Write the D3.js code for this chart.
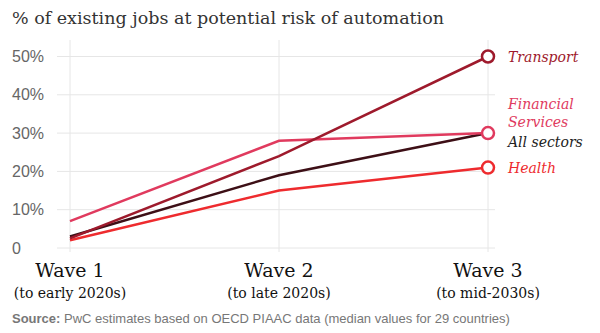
<!DOCTYPE html>
<html>
<head>
<meta charset="utf-8">
<script src="https://cdn.jsdelivr.net/npm/d3@7"></script>
<style>
  body { margin: 0; background: #fff; }
  svg { display: block; }
</style>
</head>
<body>
<div class="canvas"></div>
<script>
// data
const waves = ["Wave 1", "Wave 2", "Wave 3"];
const waveSubs = ["(to early 2020s)", "(to late 2020s)", "(to mid-2030s)"];
const yTicks = [0, 10, 20, 30, 40, 50];
const seriesNames = ["Health", "All sectors", "Financial Services", "Transport"];
const health = [2, 15, 21];
const allSectors = [3, 19, 30];
const financial = [7, 28, 30];
const transport = [2.5, 24, 50];

const colors = {
  "Health": "#ee2b2e",
  "All sectors": "#3d0f16",
  "Financial Services": "#e03a5e",
  "Transport": "#9e1a2c"
};

const w = 600;
const h = 333;
const margin = { top: 40, right: 112, bottom: 85, left: 70 };

const svg = d3.select(".canvas").append("svg").attr("width", w).attr("height", h);

// title
svg.append("text")
  .attr("x", 12).attr("y", 24)
  .style("font-family", "'DejaVu Serif', serif")
  .style("font-size", "17.5px")
  .style("fill", "#333")
  .text("% of existing jobs at potential risk of automation");

const graph = svg.append("g")
  .attr("transform", `translate(${margin.left}, ${margin.top})`);

const xScale = d3.scalePoint().domain(waves).range([0, 418]);
const yScale = d3.scaleLinear().domain([0, 50]).range([208, 16.5]);

// vertical grid
graph.append("g")
  .selectAll("line")
  .data(waves)
  .join("line")
  .attr("x1", d => xScale(d)).attr("x2", d => xScale(d))
  .attr("y1", 0).attr("y2", 212)
  .attr("stroke", "#e6e6e6");

// horizontal grid
graph.append("g")
  .selectAll("line")
  .data(yTicks)
  .join("line")
  .attr("x1", -13).attr("x2", 425)
  .attr("y1", d => yScale(d)).attr("y2", d => yScale(d))
  .attr("stroke", "#e6e6e6");

// y labels
graph.append("g")
  .selectAll("text")
  .data(yTicks)
  .join("text")
  .attr("x", -58)
  .attr("y", d => yScale(d) + 5.5)
  .style("font-family", "'Liberation Sans', Arial, sans-serif")
  .style("font-size", "16px")
  .style("fill", "#666")
  .text(d => d === 0 ? "0" : d + "%");

// x labels
const xl = graph.append("g")
  .selectAll("g")
  .data(waves)
  .join("g")
  .attr("transform", d => `translate(${xScale(d)}, 0)`);
xl.append("text")
  .attr("y", 237)
  .attr("text-anchor", "middle")
  .style("font-family", "'DejaVu Serif', serif")
  .style("font-size", "19px")
  .style("fill", "#111")
  .text(d => d);
xl.append("text")
  .attr("y", 258)
  .attr("text-anchor", "middle")
  .style("font-family", "'DejaVu Serif', serif")
  .style("font-size", "14px")
  .style("fill", "#111")
  .text((d, i) => waveSubs[i]);

// lines
const seriesData = {
  "Health": health,
  "All sectors": allSectors,
  "Financial Services": financial,
  "Transport": transport
};
const line = d3.line().x((d, i) => xScale(waves[i])).y(d => yScale(d));

graph.append("g")
  .selectAll("path")
  .data(seriesNames)
  .join("path")
  .attr("d", d => line(seriesData[d]))
  .attr("fill", "none")
  .attr("stroke", d => colors[d])
  .attr("stroke-width", 2.5);

// end markers (all sectors is hidden under financial)
graph.append("g")
  .selectAll("circle")
  .data(["Health", "Financial Services", "Transport"])
  .join("circle")
  .attr("cx", xScale(waves[2]))
  .attr("cy", d => yScale(seriesData[d][2]))
  .attr("r", 6)
  .attr("fill", "#fff")
  .attr("stroke", d => colors[d])
  .attr("stroke-width", 2.5);

// series labels
const labelStyle = sel => sel
  .style("font-family", "'DejaVu Serif', serif")
  .style("font-style", "italic")
  .style("font-size", "14px");
const lx = xScale(waves[2]) + 20;
graph.append("text").call(labelStyle).attr("x", lx).attr("y", yScale(50) + 5)
  .style("fill", colors["Transport"]).text("Transport");
const fin = graph.append("text").call(labelStyle).attr("x", lx).attr("y", yScale(30) - 24)
  .style("fill", colors["Financial Services"]);
fin.append("tspan").attr("x", lx).text("Financial");
fin.append("tspan").attr("x", lx).attr("dy", 18).text("Services");
graph.append("text").call(labelStyle).attr("x", lx).attr("y", yScale(30) + 14)
  .style("fill", "#222").text("All sectors");
graph.append("text").call(labelStyle).attr("x", lx).attr("y", yScale(21) + 5)
  .style("fill", colors["Health"]).text("Health");

// source
const src = svg.append("text")
  .attr("x", 12).attr("y", 323)
  .style("font-family", "'Liberation Sans', Arial, sans-serif")
  .style("font-size", "13px")
  .style("fill", "#777");
src.append("tspan").style("font-weight", "bold").text("Source:");
src.append("tspan").text(" PwC estimates based on OECD PIAAC data (median values for 29 countries)");
</script>
</body>
</html>
